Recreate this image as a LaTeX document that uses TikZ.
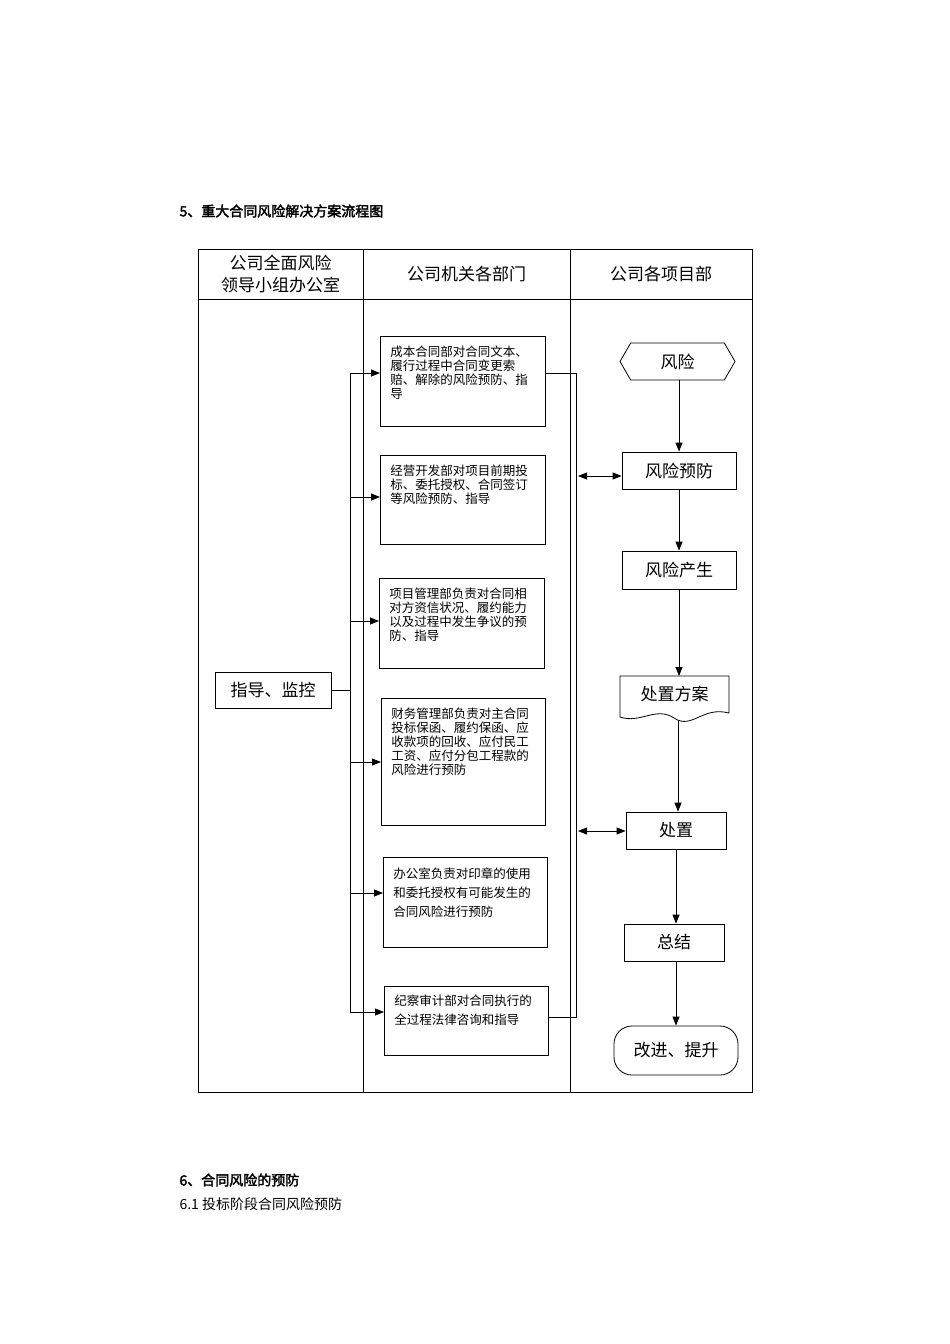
\documentclass[tikz,border=0pt]{standalone}
\usepackage{fontspec}
\setmainfont{Liberation Serif}
\newfontfamily\cjk[AutoFakeBold=2.5]{Noto Sans CJK SC}
\XeTeXlinebreaklocale "zh"
\XeTeXlinebreakskip=0pt plus 1pt
\usetikzlibrary{arrows.meta,shapes.geometric,shapes.symbols}
\begin{document}
\begin{tikzpicture}[x=1pt,y=-1pt,
  bx/.style={draw,line width=0.8pt,inner sep=0pt},
  dept/.style={bx,font=\cjk\fontsize{12.5}{14}\selectfont,align=left,inner xsep=10pt,anchor=north west},
  fl/.style={bx,font=\cjk\fontsize{17}{20}\selectfont},
  ar/.style={-{Triangle[length=9pt,width=7pt]},line width=0.8pt},
  dar/.style={{Triangle[length=9pt,width=7pt]}-{Triangle[length=9pt,width=7pt]},line width=0.8pt}]
\useasboundingbox (0,0) rectangle (950,1344);
\node[anchor=west,font=\cjk\bfseries\fontsize{14}{16}\selectfont] (title) at (176,211) {5、重大合同风险解决方案流程图};
\draw[line width=0.6pt] (198,249) rectangle (752,1092);
\draw[line width=0.6pt] (198,299) -- (752,299) (363,249) -- (363,1092) (570,249) -- (570,1092);
\node[font=\cjk\fontsize{17}{22}\selectfont,align=center] (h1) at (280.5,274) {公司全面风险\\领导小组办公室};
\node[font=\cjk\fontsize{17}{20}\selectfont] (h2) at (466.5,274) {公司机关各部门};
\node[font=\cjk\fontsize{17}{20}\selectfont] (h3) at (661,274) {公司各项目部};
\node[fl,minimum width=116pt,minimum height=36pt] (zd) at (273,690) {指导、监控};
% departments
\node[dept,minimum width=165pt,minimum height=90pt,text width=145pt,inner ysep=10pt] (d1) at (380,336) {\parbox[t][70pt][t]{145pt}{\raggedright 成本合同部对合同文本、履行过程中合同变更索赔、解除的风险预防、指导}};
\node[dept,minimum width=165pt,minimum height=89pt,text width=145pt,inner ysep=10pt] (d2) at (380,455) {\parbox[t][69pt][t]{145pt}{\raggedright 经营开发部对项目前期投标、委托授权、合同签订等风险预防、指导}};
\node[dept,minimum width=165pt,minimum height=90pt,text width=145pt,inner ysep=10pt] (d3) at (379,578) {\parbox[t][70pt][t]{145pt}{\raggedright 项目管理部负责对合同相对方资信状况、履约能力以及过程中发生争议的预防、指导}};
\node[dept,minimum width=164pt,minimum height=127pt,text width=144pt,inner ysep=10pt] (d4) at (381,698) {\parbox[t][107pt][t]{144pt}{\raggedright 财务管理部负责对主合同投标保函、履约保函、应收款项的回收、应付民工工资、应付分包工程款的风险进行预防}};
\node[dept,minimum width=164pt,minimum height=90pt,text width=144pt,inner ysep=10pt,font=\cjk\fontsize{12.5}{19}\selectfont] (d5) at (383,857) {\parbox[t][70pt][t]{144pt}{\raggedright 办公室负责对印章的使用和委托授权有可能发生的合同风险进行预防}};
\node[dept,minimum width=164pt,minimum height=69pt,text width=144pt,inner ysep=8pt,font=\cjk\fontsize{12.5}{19}\selectfont] (d6) at (384,986) {\parbox[t][53pt][t]{144pt}{\raggedright 纪察审计部对合同执行的全过程法律咨询和指导}};
% bus
\coordinate (b0) at (350,690);
\coordinate (bt) at (350,373);
\coordinate (bb) at (350,1012);
\draw[line width=0.8pt] (zd.east) -- (b0);
\draw[line width=0.8pt] (bt) -- (bb);
\draw[ar] (bt) -- (d1.west |- bt);
\foreach \n/\y in {d2/497,d3/621,d4/762,d5/893,d6/1012}{
  \coordinate (c\n) at (350,\y);
  \draw[ar] (c\n) -- (\n.west |- c\n);}
% right flow
\node[fl,shape=signal,signal to=west and east,signal pointer angle=120,minimum width=115pt,minimum height=37pt] (fx) at (677.5,361.5) {风险};
\node[fl,minimum width=114pt,minimum height=37pt] (yf) at (679,470.5) {风险预防};
\node[fl,minimum width=114pt,minimum height=38pt] (cs) at (679,570) {风险产生};
\coordinate (fa) at (674.5,694);
\draw[line width=0.8pt] (620,676) -- (729,676) -- (729,713) .. controls (702,706) and (692,730) .. (674,718) .. controls (656,706) and (640,724) .. (620,717) -- cycle;
\node[font=\cjk\fontsize{17}{20}\selectfont] (fan) at (fa) {处置方案};
\node[fl,minimum width=100pt,minimum height=37pt] (cz) at (676,830.5) {处置};
\node[fl,minimum width=100pt,minimum height=37pt] (zj) at (674,942.5) {总结};
\node[fl,rounded corners=18pt,minimum width=124pt,minimum height=49pt] (gj) at (676,1050.5) {改进、提升};
\draw[ar] (fx.south -| yf) -- (yf.north);
\draw[ar] (yf) -- (cs);
\coordinate (ft) at (679,676);
\draw[ar] (cs.south) -- (ft);
\coordinate (fb) at (678,720);
\draw[ar] (fb) -- (fb |- cz.north);
\coordinate (zt) at (676,849);
\draw[ar] (zt) -- (zt |- zj.north);
\coordinate (gt) at (676,961);
\draw[ar] (gt) -- (gj.north);
% right bracket
\coordinate (rt) at (576,373);
\coordinate (rb) at (576,1017);
\draw[line width=0.8pt] (d1.east |- rt) -- (rt) -- (rb) -- (d6.east |- rb);
\coordinate (r1) at (578,476);
\coordinate (r2) at (578,831);
\draw[dar] (r1) -- (yf.west |- r1);
\draw[dar] (r2) -- (cz.west |- r2);
% bottom text
\node[anchor=west,font=\cjk\bfseries\fontsize{14}{16}\selectfont] (t6) at (176,1180) {6、合同风险的预防};
\node[anchor=west,font=\cjk\fontsize{14}{16}\selectfont] (t61) at (176,1204) {6.1 投标阶段合同风险预防};
\end{tikzpicture}
\end{document}
